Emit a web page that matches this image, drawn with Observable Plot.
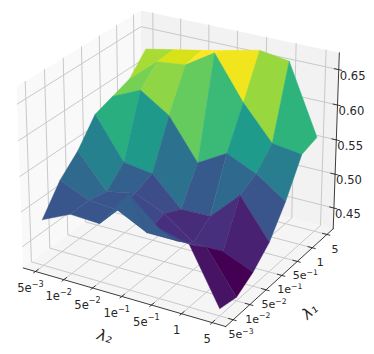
<!DOCTYPE html>
<html><head><meta charset="utf-8">
<script src="https://cdn.jsdelivr.net/npm/d3@7"></script>
<script src="https://cdn.jsdelivr.net/npm/@observablehq/plot@0.6"></script>
<style>html,body{margin:0;background:#fff}svg{display:block}</style></head><body>
<script>
// Values
const tickBase=["5e","1e","5e","1e","5e","1","5"];
const tickExp=["−3","−2","−2","−1","−1","",""];
const zTicks=[0.45,0.50,0.55,0.60,0.65];
const row0=[.485,.504,.502,.555,.518,.507,.429];
const row1=[.523,.505,.502,.481,.481,.483,.424];
const row2=[.547,.499,.507,.489,.458,.457,.439];
const row3=[.582,.523,.517,.476,.477,.518,.462];
const row4=[.591,.610,.583,.525,.549,.530,.501];
const row5=[.600,.634,.639,.665,.604,.556,.550];
const row6=[.628,.636,.644,.653,.662,.656,.557];
const Z=[row0,row1,row2,row3,row4,row5,row6];

// matplotlib-style 3D view
const m=0.4375,zlo=0.419,zhi=0.6735,A=1.1428,C=0.95,N=tickBase.length-1;
const el=25*Math.PI/180,az=-60*Math.PI/180;
const n=[Math.cos(el)*Math.cos(az),Math.cos(el)*Math.sin(az),Math.sin(el)];
const u=[-Math.sin(az),Math.cos(az),0];
const v=[n[1]*u[2]-n[2]*u[1],n[2]*u[0]-n[0]*u[2],n[0]*u[1]-n[1]*u[0]];
const dot=(a,b)=>a[0]*b[0]+a[1]*b[1]+a[2]*b[2];
const toWorld=(i,j,z)=>[((i+m)/(N+2*m)-.5)*A,((j+m)/(N+2*m)-.5)*A,((z-zlo)/(zhi-zlo)-.5)*C];
function proj(i,j,z){const d=toWorld(i,j,z);const w=10-dot(d,n);return {x:dot(d,u)/w,y:dot(d,v)/w,depth:w};}
const sx=2025,tx=180.6,sy=2073,ty=160,W=374,H=354;
const lo=-m,hi=N+m;

function poly(pts,extra,id){return [...pts,pts[0]].map(p=>{const q=proj(...p);return {id,x:q.x,y:q.y,...extra};});}
function seg(pts,id){return pts.map(p=>{const q=proj(...p);return {id,x:q.x,y:q.y};});}

// Panes
const paneLeft=poly([[lo,lo,zlo],[lo,hi,zlo],[lo,hi,zhi],[lo,lo,zhi]],{},"l");
const paneBack=poly([[lo,hi,zlo],[hi,hi,zlo],[hi,hi,zhi],[lo,hi,zhi]],{},"b");
const paneFloor=poly([[lo,lo,zlo],[hi,lo,zlo],[hi,hi,zlo],[lo,hi,zlo]],{},"f");

// Grid
const grid=[],ticks=[];
d3.range(N+1).forEach(k=>{
  grid.push(...seg([[k,lo,zlo],[k,hi,zlo],[k,hi,zhi]],"gx"+k));
  grid.push(...seg([[hi,k,zlo],[lo,k,zlo],[lo,k,zhi]],"gy"+k));
  ticks.push(...seg([[k,lo-.1,zlo],[k,lo+.15,zlo]],"tx"+k));
  ticks.push(...seg([[hi+.1,k,zlo],[hi-.15,k,zlo]],"ty"+k));
});
zTicks.forEach(t=>{
  grid.push(...seg([[lo,lo,t],[lo,hi,t],[hi,hi,t]],"gz"+t));
  ticks.push(...seg([[hi+.1,hi,t],[hi-.15,hi,t]],"tz"+t));
});
const axes=[...seg([[lo,lo,zlo],[hi,lo,zlo]],"ax"),...seg([[hi,lo,zlo],[hi,hi,zlo]],"ay"),...seg([[hi,hi,zlo],[hi,hi,zhi]],"az")];

// Surface facets, far to near
const facets=[];
for(let j=0;j<N;j++)for(let i=0;i<N;i++){
  const c=[[i,j],[i+1,j],[i+1,j+1],[i,j+1]].map(([a,b])=>[a,b,Z[b][a]]);
  facets.push({c,avg:d3.mean(c,p=>p[2]),depth:d3.mean(c,p=>proj(...p).depth),id:`${i}-${j}`});
}
facets.sort((a,b)=>d3.descending(a.depth,b.depth));
const surface=facets.flatMap(f=>poly(f.c,{v:f.avg},f.id));

// Labels
const xLabels=tickBase.map((t,k)=>({t,e:tickExp[k],...proj(k,lo,zlo)}));
const yLabels=tickBase.map((t,k)=>({t,e:tickExp[k],...proj(hi,k,zlo)}));
const zLabels=zTicks.map(t=>({t:t.toFixed(2),...proj(hi,hi,t)}));
const xTitle=[{t:"λ₂",...proj(N/2,lo,zlo)}];
const yTitle=[{t:"λ₁",...proj(hi,N/2,zlo)}];

const font="DejaVu Sans",ink="#262626",fs=11.6;
function tickMarks(data,dx,dy,size,raise){
  const plain=data.filter(d=>!d.e),pow=data.filter(d=>d.e);
  return [
    Plot.text(plain,{x:"x",y:"y",text:"t",dx,dy,fontSize:size,fill:ink}),
    Plot.text(pow,{x:"x",y:"y",text:"t",dx:dx+1.2,dy,textAnchor:"end",fontSize:size,fill:ink}),
    Plot.text(pow,{x:"x",y:"y",text:"e",dx:dx+1.2,dy:dy-raise,textAnchor:"start",fontSize:size*0.7,fill:ink})
  ];
}
const chart=Plot.plot({
  width:W,height:H,margin:0,
  x:{domain:[(0-tx)/sx,(W-tx)/sx],range:[0,W],axis:null},
  y:{domain:[(ty-H)/sy,ty/sy],range:[H,0],axis:null},
  color:{type:"linear",scheme:"viridis",domain:d3.extent(facets,f=>f.avg)},
  style:{background:"#fff",fontFamily:font},
  marks:[
    Plot.line(paneLeft,{x:"x",y:"y",fill:"#f9f9f9"}),
    Plot.line(paneBack,{x:"x",y:"y",fill:"#f2f2f2"}),
    Plot.line(paneFloor,{x:"x",y:"y",fill:"#f5f5f5"}),
    Plot.line(grid,{x:"x",y:"y",z:"id",stroke:"#c9c9c9",strokeWidth:1}),
    Plot.line(axes,{x:"x",y:"y",z:"id",stroke:ink,strokeWidth:0.9}),
    Plot.line(ticks,{x:"x",y:"y",z:"id",stroke:ink,strokeWidth:0.9}),
    Plot.line(surface,{x:"x",y:"y",z:"id",fill:"v",stroke:"v",strokeWidth:0.4}),
    ...tickMarks(xLabels,-5,17,fs,4.5),
    ...tickMarks(yLabels,8,14.5,11,3.2),
    Plot.text(zLabels,{x:"x",y:"y",text:"t",dx:1,dy:6.5,textAnchor:"start",fontSize:fs,fill:ink}),
    Plot.text(xTitle,{x:"x",y:"y",text:"t",dx:-17,dy:40,rotate:16,fontSize:15,fontStyle:"italic",fill:ink}),
    Plot.text(yTitle,{x:"x",y:"y",text:"t",dx:28,dy:36,rotate:-42,fontSize:15,fontStyle:"italic",fill:ink})
  ]
});
document.body.append(chart);
</script></body></html>
